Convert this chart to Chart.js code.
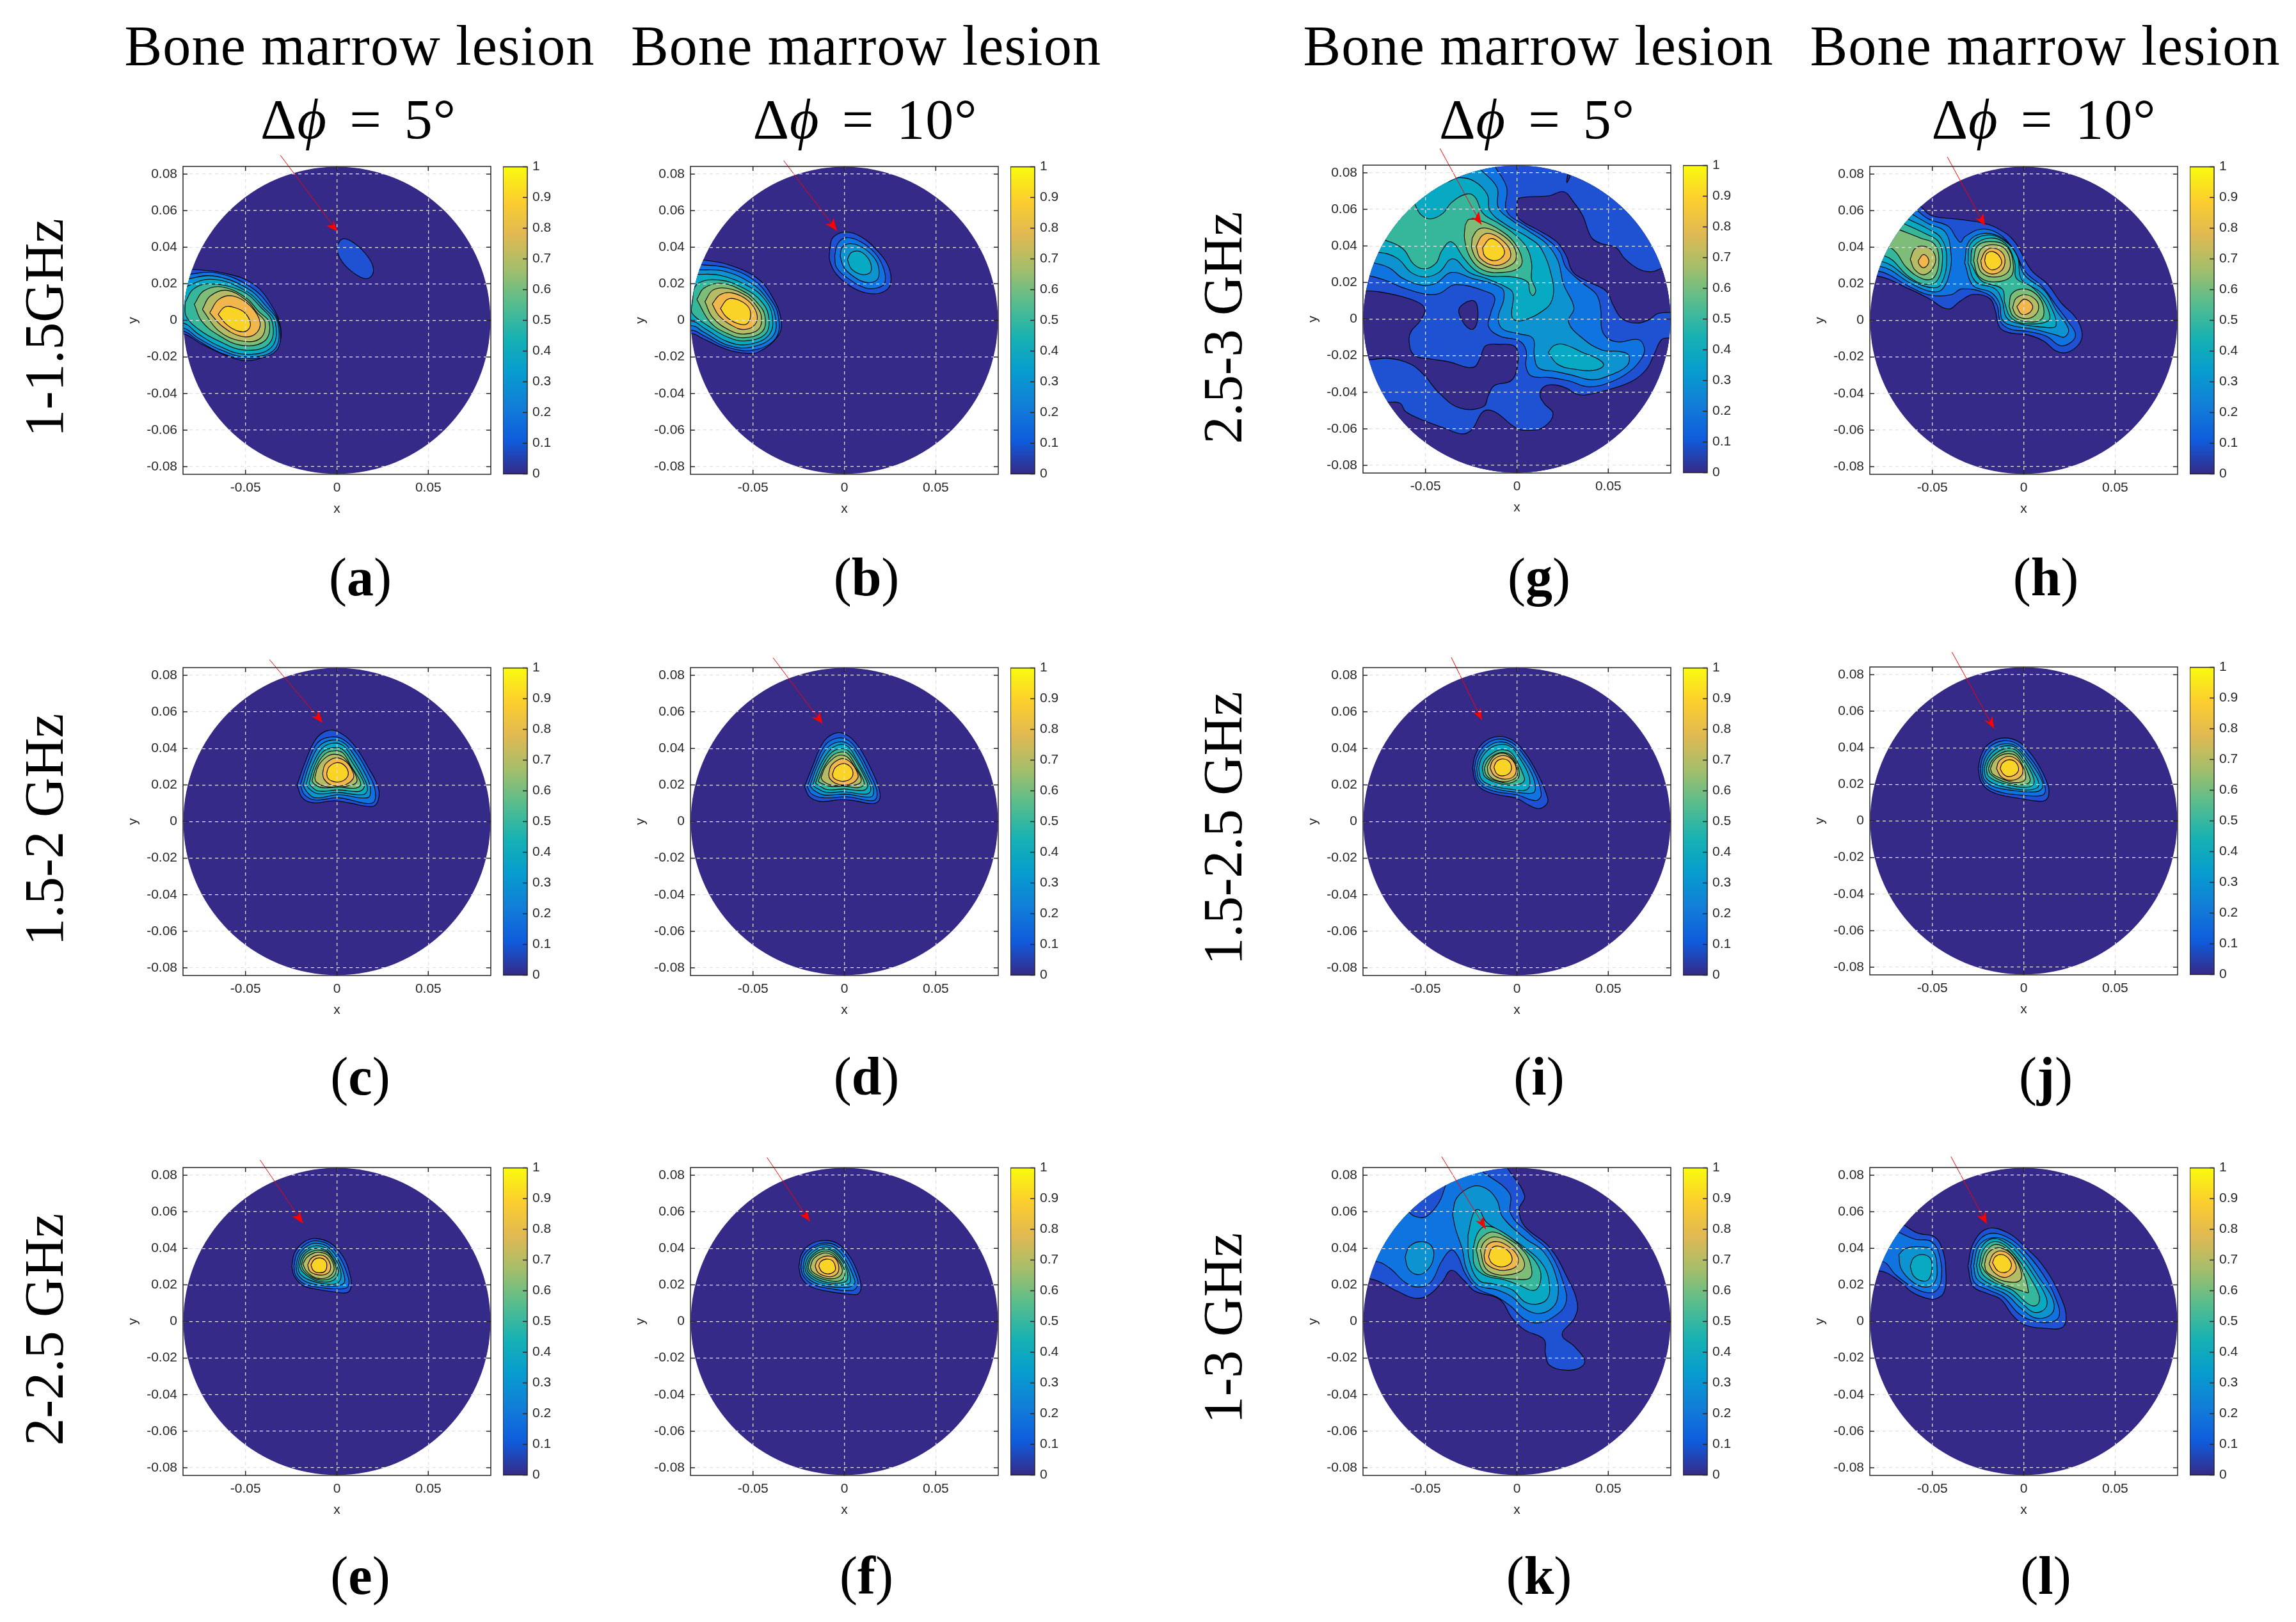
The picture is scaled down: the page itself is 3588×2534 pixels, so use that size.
<!DOCTYPE html>
<html>
<head>
<meta charset="utf-8">
<title>Bone marrow lesion</title>
<script src="https://cdn.jsdelivr.net/npm/chart.js@4/dist/chart.umd.js"></script>
<style>
  html, body { margin: 0; background: #fff; }
  #page { position: relative; width: 3588px; height: 2534px; overflow: hidden; background: #fff; }
  canvas { position: absolute; }
  .label { position: absolute; transform: translate(-50%, -50%); white-space: nowrap; color: #000;
           font-family: "Liberation Serif", serif; }
  .side { transform: translate(-50%, -50%) rotate(-90deg); }
</style>
</head>
<body>
<div id="page"></div>
<script>
// axis ticks
const xTicks = [-0.05, 0, 0.05];
const yTicks = [-0.08, -0.06, -0.04, -0.02, 0, 0.02, 0.04, 0.06, 0.08];
const barTicks = [0, 0.1, 0.2, 0.3, 0.4, 0.5, 0.6, 0.7, 0.8, 0.9, 1];

// colour of each filled contour band, and the colour bar
const levelColors = ['#352A87', '#1E52D2', '#0F74DF', '#0D93CF', '#08A9C2', '#36B69B', '#7EBD79', '#B6BC65', '#F2B74C', '#F9D326'];
const barStops = ['#352A87', '#0F5CDD', '#127DD8', '#079CCF', '#15B1B4', '#59BD8C', '#A5BE6B', '#E1B952', '#FCCE2E', '#F9FB0E'];
const barStopAt = [0, 0.11, 0.22, 0.33, 0.44, 0.56, 0.67, 0.78, 0.89, 1];

// contours: [band, [x, y, x, y, ...]], x and y in thousandths of the axis unit
const panelA = [
  [1, [-0.2,40.7, 3.3,44.6, 10.3,41.6, 17.3,34.3, 20,28, 18,23.4, 13.4,23.4, 5.6,28.9, 1,35.3]],
  [1, [-80,28, -63,26.1, -45.9,20, -35,7, -30.6,-5, -32.6,-15, -41.2,-20.5, -50.5,-22, -60,-19.5, -74,-13, -85,-7.3, -110,-10, -110,30]],
  [2, [-81.7,25.2, -66,26, -47.5,18.5, -37,8, -31.4,-3, -33.4,-16.8, -49,-21, -63,-18, -75.5,-11.3, -85,-5.8, -110,-8, -110,28]],
  [3, [-82.5,22.5, -67.7,24.3, -49,17.5, -38.5,7.5, -32.3,-1.3, -34.2,-16, -49,-20, -63,-16.4, -75.5,-9.9, -85,-4, -110,-6, -110,26]],
  [4, [-84,18, -69,22.5, -50.5,16.5, -40,7, -33.7,-1.3, -35.7,-14.6, -49.8,-18.6, -64.6,-14, -75.5,-7.7, -85,-1.3, -110,-4, -110,22]],
  [5, [-83,9.7, -78.6,17, -70,20, -52,16, -41.5,7, -35.3,-1.3, -37.3,-13, -50.5,-16.3, -64.6,-11.3, -75.5,-5, -82.5,2.4]],
  [6, [-78,8.8, -73,16, -63,18.3, -50,12.5, -43,5, -37,-1.3, -39.6,-11.3, -52,-13.7, -64.6,-8.2, -74,-0.4]],
  [7, [-73.6,6, -69.3,13.3, -60,16.4, -49,10.5, -44,4.5, -39.3,-1.3, -42,-9.9, -52,-11.3, -64.6,-5.8]],
  [8, [-69.6,4.2, -64.6,11.5, -56.8,13.3, -47.4,7.9, -42,-1.3, -45,-7.7, -52.9,-8.6, -63,-3]],
  [9, [-65,3.3, -61.4,7.3, -56,7, -50.5,4.2, -47.4,-1.3, -49,-5.5, -53.6,-6, -60,-2.6]]
];
const panelB = [
  [1, [-8,39, -6.3,45.2, 0.4,48.3, 9,45.8, 18.4,37.7, 24.3,29, 25.3,20.2, 21.7,15.8, 14.4,14.6, 5,17.7, -4.3,25.2, -8,32.7]],
  [2, [-5.3,35.2, -3.6,42, 1,45.2, 9,43, 17,36.5, 21.7,27.7, 22,20.2, 17.7,17.7, 11.7,17.7, 2.4,22.7, -4.3,29]],
  [3, [-2.3,35.2, -1,40.2, 3.7,41.9, 10.4,39.6, 17,33.3, 19,27, 17.7,22, 11.7,20.8, 5,24, -0.3,29]],
  [4, [1.7,33.3, 3.7,37, 8.4,37.7, 13,34, 14.8,29, 13.7,25.8, 9,25.2, 3.7,28.3]],
  [1, [-76.7,33, -64,30.6, -48,23.3, -39.5,13, -34.6,0.2, -36.2,-8.5, -46.8,-17.2, -54,-17.9, -64,-16, -77.4,-10, -84,-7.2, -110,-12, -110,38]],
  [2, [-78.7,30.5, -64,28.7, -49.5,22, -41,12.5, -36.2,2.7, -37.5,-9.7, -49.5,-16.2, -64,-14.7, -76.7,-8.5, -84,-5.4, -110,-10, -110,36]],
  [3, [-80,27.7, -65.4,26.8, -50.8,20.2, -42.5,12, -37.9,2.7, -39,-8.5, -51.5,-14.7, -64,-13.5, -76.7,-6.6, -84,-2.9, -110,-8, -110,32]],
  [4, [-81.4,25.2, -68,24.6, -52,18.4, -44,12, -39.5,2.7, -41.2,-7.9, -52.8,-13.2, -64,-11.6, -76,-4.7, -84,-0.4, -110,-4, -110,28]],
  [5, [-83.4,9, -80.7,19.6, -68,22, -54,17, -46,11, -41.5,2.7, -43,-7.2, -54,-11.2, -64,-9.1, -74.7,-2.9, -83.4,4]],
  [6, [-80.7,11.5, -76.7,17.7, -66.8,20.2, -54,15.2, -48,10, -43.5,2.7, -44.8,-6, -54.8,-9.5, -64,-7.2, -73.4,-1]],
  [7, [-76.3,10.2, -72,16.5, -64,17.5, -53.5,13.4, -49,9, -45.5,2.7, -46.8,-4.7, -54.8,-7.5, -62.8,-5.4, -72,1.5]],
  [8, [-72.3,9, -68,14, -61.4,15, -52.8,10.9, -48,4, -48.8,-2.2, -54.8,-5, -61.4,-2.9, -68.7,2.7]],
  [9, [-67.8,6.5, -64,11.5, -58.8,11.5, -52.8,7.7, -51.3,2.7, -53.5,-2, -58.8,-1.6, -64.8,2.1]]
];
const panelC = [
  [1, [-21.8,20, -17.7,31.7, -11.9,44.5, -6,49.5, 0.3,49.3, 9,42.3, 17.2,29.5, 22.5,19, 22.7,12, 19.6,8.3, 6.8,10.2, -1.4,11.4, -13,10.3, -18.9,13]],
  [2, [-20,20, -16.6,30.5, -10.7,42.9, -3.7,46.2, 3.3,45, 10.3,38, 17.2,26.3, 20.7,18, 20.5,11, 16,9.9, 1,13, -11.9,11.8, -17.7,14.7]],
  [3, [-18.5,20, -14.8,31.7, -9.6,41.3, -3.1,44.5, 3.3,43.3, 9,37, 16,25, 18.4,17.6, 16.7,13, 1,14.7, -11.9,13, -16.6,16.5]],
  [4, [-16.8,20.6, -13.6,30.5, -8.4,39.8, -2.6,42.8, 3.3,41.6, 9,34, 14.9,23.5, 16.7,17.6, 14.3,14.7, 1,15.9, -10.7,15.3, -15.4,18.2]],
  [5, [-15.2,21, -12.5,29.9, -7.8,38, -2,40.4, 3.3,39.3, 8.5,32.2, 14.3,22.3, 14.9,18.8, 12,16.5, 1,17.3, -10.1,16.7, -14.2,19.4]],
  [6, [-13.6,22.3, -11.3,29.9, -6.6,36.9, -1.4,38.7, 3.3,37.5, 7.9,30.1, 12.6,22.3, 12.6,19.4, 9,18.2, 1,18.9, -8.4,18.6, -12.5,20.6]],
  [7, [-12.1,24, -10.1,30.5, -5.5,35.5, -1.4,36.8, 3.3,35.4, 7.3,30.5, 10.8,24, 10.3,21, 5.6,19.4, -0.2,18.8, -7.2,19.4, -11.3,21.7]],
  [8, [-7.8,26.4, -6.6,31, -2.6,34.3, 0.9,34.8, 5.6,32.2, 8.5,27.6, 9.1,24, 5.6,20.6, 0.3,19.4, -4.3,20.6, -7.2,23.5]],
  [9, [-5.6,26.4, -4.3,29.9, -0.2,32.2, 3.8,31, 6.2,27, 5,23.5, 0.9,21.6, -3.1,22.3, -5.1,24]]
];
const panelD = [
  [1, [-21.8,19, -17.5,30, -11.8,43, -6,48, 0,48, 7,42, 14,30, 19,18, 19.2,12, 15.5,9.8, 5,11.5, -2,12, -13,11, -19,13.5]],
  [2, [-20.3,19, -16.2,30, -10.7,41.5, -4.5,45.5, 2,44.5, 8,37.5, 14,26, 17.7,17, 17,12, 13,11.5, 2,13.5, -11.5,13, -17.8,15]],
  [3, [-18.8,19.5, -14.8,30.5, -9.6,40, -3.5,43.5, 2,42.5, 7.5,36, 13,25, 16,17.5, 14.5,13.5, 1,15, -11,14.5, -16.5,17]],
  [4, [-17.3,20, -13.6,30, -8.4,38.5, -3,42, 2,41, 7,33.5, 12.5,23.5, 14.5,17.5, 12,15, 0,16.3, -10,16, -15.5,18.5]],
  [5, [-15.8,21, -12.5,29.5, -7.8,37, -2.5,39.8, 2,38.7, 7,32, 12,22.5, 12.7,19, 10,17, 0,17.8, -9.5,17.5, -14.3,20]],
  [6, [-14.3,22, -11.3,29.5, -6.6,36, -2,38, 2,37, 6.4,30, 10.5,22.5, 10.5,19.8, 7,18.5, 0,19.4, -8,19.3, -12.8,21]],
  [7, [-12.8,24, -10.3,30, -5.8,34.8, -2,36.3, 2,35, 5.6,30, 9,24, 8.5,21, 4,19.8, -1,19.6, -7.5,20, -11.5,22]],
  [8, [-8.6,26, -7.3,30.5, -3.3,33.8, 0,34.3, 4,31.8, 7,27, 7.4,24, 4,20.8, -1,20, -5,21, -8,23.5]],
  [9, [-6.5,26, -5,29.5, -1,31.7, 2.7,30.5, 4.7,27, 3.5,23.5, -0.5,22, -4,22.7, -6,24]]
];
const panelE = [
  [1, [-24.7,30.3, -23,37.9, -17.7,43.7, -11.3,45.3, -3.7,43, 3.3,35.6, 7.3,25.1, 7.7,18.7, 5.6,15.8, -0.2,16, -10.7,17.6, -18.9,19.9, -23.5,25.1]],
  [2, [-23.5,30.3, -21.8,37.3, -16.6,42.6, -11.3,44.1, -4.3,41.9, 2,34.4, 6.2,24, 6.2,19.3, 3.3,17.9, -7.2,18.4, -17.7,20.5, -22.6,25.1]],
  [3, [-22.4,30.3, -20.6,36.7, -16,41.4, -11.3,42.8, -4.9,40.8, 0.9,33.3, 4.2,24, 3.3,20.5, -4.9,19.3, -16.6,21.6, -21.4,25.7]],
  [4, [-21.4,30.3, -19.8,36.1, -15.4,40.2, -10.7,41.4, -5.5,39.7, 0.3,32.1, 2.3,25.1, 0.3,21, -6,20.5, -15.4,22.8, -20.3,26.3]],
  [5, [-20.5,30.3, -18.9,35.5, -14.8,39.2, -10.7,40, -5.5,38.5, -0.5,31.5, 0.7,26.3, -2.6,22.2, -9.6,21.9, -14.8,24, -19.1,27.4]],
  [6, [-19.5,30.9, -17.7,35.6, -13.6,38.3, -9.6,39, -4.9,37.3, -1.2,31.5, -0.5,26.9, -3.7,23.4, -9.6,22.8, -14.2,24.5, -18.3,28]],
  [7, [-18.6,31.5, -16.5,35, -12.5,37.5, -9,37.8, -5,36.3, -2,31.5, -1.8,27.5, -5,24.2, -9.6,23.5, -13.5,24.8, -17,28]],
  [8, [-16,30.9, -14.2,34.4, -10.7,36.2, -6.6,35.6, -3.7,31.5, -4,27.4, -7.2,25.5, -11.3,25.7, -14.8,27.4]],
  [9, [-14.2,30.9, -12.5,33.8, -9.6,34.8, -6.6,33.6, -5.5,30.9, -6.6,27.4, -10.1,26.7, -13,28]]
];
const panelF = [
  [1, [-24.9,29.8, -23.5,36.7, -18.9,42, -11.3,44.3, -3.7,42.6, 3.3,35, 7.9,25.1, 9.1,18.1, 7.3,15, 3.3,14.9, -8.4,16.4, -18.9,19.3, -23.5,24]],
  [2, [-23.8,29.8, -22.4,36, -17.7,40.6, -11.3,42.9, -4.3,41.4, 2.1,34.4, 6.8,24, 7.3,19.9, 4.4,17, -8.4,18.1, -17.7,20.5, -22.6,25.1]],
  [3, [-22.6,29.8, -21.2,35.4, -16.6,40.2, -11.3,41.9, -4.9,40.2, 0.9,33.3, 5.6,22.8, 5.4,20.5, 2.1,18.7, -9.6,19.3, -17.1,21.6, -21.7,25.7]],
  [4, [-21.7,29.8, -20,35, -16,39, -10.7,40.8, -5.5,39.1, 0.3,32.1, 3.3,24, 2.1,20.5, -9.6,20.5, -16.6,22.8, -20.6,26.3]],
  [5, [-20.6,29.8, -19.1,34.4, -15.4,38.1, -10.7,39.7, -5.5,38, -0.2,31.5, 1.9,25.1, 0.3,21.6, -9.6,21.4, -16,23.7, -19.8,26.9]],
  [6, [-19.8,29.8, -18.3,34.2, -14.5,37.4, -10.1,38.5, -5.5,36.7, -1.2,30.9, 0.3,25.7, -2.6,22.2, -9.6,22.6, -15.4,24.5, -18.9,27.4]],
  [7, [-18.6,29.8, -17.1,33.9, -13.6,36.6, -9.6,37.4, -5.5,35.6, -2,30.9, -1.2,26.9, -3.7,24, -9,23.4, -14.2,25.1, -17.7,27.4]],
  [8, [-16,30.3, -14.8,33.3, -11.9,35.3, -8.4,35.8, -4.9,34.4, -3.1,30.3, -3.7,26.5, -7.2,24.5, -11.3,25.1, -14.5,26.9]],
  [9, [-14,30.3, -13,32.7, -10.1,34.1, -6.6,33.3, -4.9,29.8, -5.5,27.4, -9,26, -12.5,27.4]]
];
const panelG = [
  [1, [-95,-95, 95,-95, 95,95, -95,95]],
  [0, [0,63, 1.2,66.2, 17.9,67.5, 25.5,69.7, 30.8,64.3, 36,56.5, 40.6,44.9, 45.2,41.7, 54.2,39.1, 58.8,33.3, 66.4,27.5, 73.9,25.9, 80,28.1, 95,30, 95,4, 83.8,3.6, 77,3, 72.4,-0.3, 64.8,-2.2, 57.3,0.4, 52.7,7.5, 48.9,15.2, 39.1,20.4, 30.8,25.5, 27,34.6, 21.7,42.3, 10.3,49.4, 4.2,52.6, 0,56.5]],
  [0, [-84,15.5, -76,15, -64,12.6, -53.3,8.8, -50.3,4.9, -53.3,-1.5, -57.9,-6.7, -59,-11.9, -56.4,-19.6, -47.3,-21.8, -36.7,-23.5, -27.6,-26.3, -23,-26, -20,-20.9, -17,-14.5, -9.4,-13.8, -1.8,-14.5, 0.5,-18.3, 0,-27.4, -3.3,-33.8, -12.4,-36.4, -15.5,-41.5, -18.5,-48, -31.4,-48.6, -42.7,-40.3, -50.3,-31.2, -57.9,-24.8, -70,-21.5, -80.6,-22.2, -95,-22, -95,15]],
  [0, [-27.6,9.4, -23.8,10.1, -21.8,7.5, -21.5,-0.3, -23.8,-5.4, -27.6,-4.1, -31.4,2.3, -31.4,6.2]],
  [0, [-70,-45.4, -63.9,-46, -60.9,-50.6, -50.3,-55.7, -39.7,-59.6, -29.8,-62.8, -24.5,-60.3, -18.5,-50.6, -12.4,-50.6, -0.3,-59.6, 7.3,-60.9, 14.8,-59, 19.8,-51.9, 14.8,-46, 12.6,-41.5, 14.8,-37, 20.9,-36, 27,-37.7, 32.3,-40.9, 37.6,-41.5, 51.2,-38.3, 63.3,-33.8, 70.9,-27.4, 75.5,-18.3, 79.2,-11.2, 83.8,-10.3, 95,-10, 95,-95, -95,-95, -95,-42]],
  [0, [27.7,79, 29.2,78.8, 27.3,74.6]],
  [2, [-11.7,83, -5.6,72, -5.6,59, 4.2,51.4, 14.8,44.9, 23.2,37.2, 27,28.1, 36,19.7, 43.6,13.3, 45.9,4.9, 46.4,-5.4, 49.7,-10.6, 55.8,-12.5, 66.4,-11.2, 69.7,-15.7, 68.6,-20.9, 61.8,-28.6, 51.2,-34.5, 39.1,-37, 28.5,-33.8, 17.9,-31.9, 8,-31.2, 5,-26.1, 5,-17, 1.2,-11.9, -9.4,-9.3, -15.5,-4.1, -14.2,3.6, -12.1,11.4, -15.5,14.6, -33.6,18.8, -42.7,13.9, -50.3,13.7, -62.4,17.2, -71.5,21, -80.9,23.6, -95,24, -95,90, -11.7,90]],
  [3, [-19.7,81.7, -10.9,72, -10.2,61, -2.6,53.9, 7.3,47.5, 16.4,41, 22.4,32, 25.5,19.1, 31.2,6.2, 28.2,-1.5, 36,-10.6, 46.7,-17, 55.8,-17.7, 61,-19.6, 60.3,-25.4, 49.7,-31.2, 40.6,-33.2, 30,-30.6, 20.9,-28.6, 11.8,-26.7, 9.5,-19.6, 8.8,-10.6, 1.2,-8, -7.9,-5.4, -10.2,1, -7.1,11.4, -8.6,17.2, -24.5,22.3, -35.9,25.5, -44.2,19.7, -51.8,18.5, -62.4,22.3, -70,28.1, -78.3,30.7, -95,33, -95,90, -19.7,90]],
  [4, [-37.4,75.2, -31.4,77.4, -23,75.2, -16.2,68.1, -14.7,59.1, -5.6,51.4, 5.8,44.9, 13.3,38.5, 19.4,21.7, 19.8,12.6, 16.4,6.2, 2.7,-0.9, -2.6,1, -2.1,13.9, -6.4,17.8, -17,22.3, -26,25.5, -35.2,33, -42.7,25.5, -50.3,23, -57.9,25.5, -65.5,33.3, -76,36.5, -95,36, -95,80]],
  [4, [17.1,-18.3, 20.2,-14.5, 25.5,-13.8, 36,-18.3, 45,-22.2, 47.4,-25.4, 42.1,-28, 31.5,-27.4, 22.4,-24.8]],
  [5, [-56,63, -52.6,57.2, -47.3,54.8, -40.5,57.8, -35.9,63.6, -27.6,68.4, -23,66.8, -18.5,57.8, -9.4,52, -1.8,46.8, 5,39.7, 8,30.7, 8,21.7, 10.3,15.9, 8.8,12.9, 7,15.2, 5.8,20.4, -3.3,23.2, -15.5,23.6, -23,26.8, -29,33.3, -35.9,42.3, -41.2,37.2, -44.2,30.7, -50.3,27.5, -56.4,30, -62.4,38.5, -72.3,43.2, -95,50, -70,70]],
  [6, [-28.3,51.4, -26,54.6, -18.5,53.3, -9.4,48.8, -1.8,42.3, 2.7,33.3, 1.2,28.1, -7.9,25.5, -18.5,26.8, -25.3,33.3, -28.6,43.6]],
  [7, [-24.5,44.3, -21.5,48.8, -17,49.8, -9.4,46.8, -2.6,41, -0.3,34.6, -2.6,30, -10.9,27.5, -20,30.7, -24.5,37.9]],
  [8, [-22.3,39.7, -19.2,45.5, -14.7,46.8, -7.9,43, -3.6,37.2, -4.8,32, -12.4,29.4, -20,33.3]],
  [9, [-18.8,39.1, -14.7,43.9, -10.2,42.3, -6.8,37.2, -8.6,33.3, -13.2,32, -17.7,34.6]]
];
const panelH = [
  [1, [-56.5,62.5, -50.5,57.3, -36.8,55.4, -23.2,53.4, -14.1,50.2, -5,43.1, 4,27.6, 13,19.8, 20.6,9.4, 28.3,1.7, 31.8,-6.1, 30.6,-12.5, 23.8,-17.5, 17.7,-16.7, 10.9,-11.3, 2.6,-8, -8,-6.7, -13.3,-3.5, -15.6,5.6, -18.6,12, -27.7,14.2, -34.5,10.7, -41.4,6.2, -52,12, -62.6,17.2, -80.5,24.3, -95,22, -95,70, -60,70]],
  [2, [-58.8,60.5, -52,55.4, -41.4,51.5, -36.8,45, -34.5,42.7, -32.3,45.7, -23.2,49.9, -14.1,47.6, -5.8,39.2, 1.1,26.3, 10.2,18.5, 17.7,8.2, 24.5,-0.9, 28.3,-7.4, 26,-11.9, 20,-13.8, 12.4,-8.7, 2.6,-6.1, -7.3,-4.8, -12.6,-0.9, -14.8,8.8, -20.2,14.6, -33.8,17.2, -39.8,14, -52,14, -62.6,18.5, -79.5,26.9, -95,24, -95,70, -65,68]],
  [3, [-61,58, -52,52.8, -42.9,48.3, -39.8,36.6, -40.2,27.6, -44.4,17.2, -50.5,15.7, -61,19.8, -78.5,29.5, -95,26, -95,60, -70,65]],
  [3, [-32.3,31.4, -30,43.1, -21.7,47.6, -11.8,45, -4.2,36.6, 0.3,25, 11.7,15.9, 17.7,5.6, 24.5,-4.8, 22.3,-9.1, 17.7,-8, 5.6,-4.8, -6.5,-2.8, -11.8,0.4, -13.3,9.4, -17.9,15.3, -27.7,19.1]],
  [4, [-63.3,55.4, -52.7,50.2, -45.2,45, -42.1,34, -45.2,19.8, -50.5,17.9, -61,21.7, -77.4,32.1, -95,30, -95,60, -70,62]],
  [4, [-30.5,31.4, -29,42, -20,46.7, -10.5,43.5, -3.5,35, -1.2,22.4, 8.6,15.9, 13.9,9.4, 17.7,-2.8, 11.7,-3.8, -3.5,-1.6, -9.5,1.7, -11.8,10.7, -15.6,17.2, -26.2,21.1]],
  [5, [-65.3,52.8, -54.2,47.6, -46.7,43.1, -44.4,34, -47.4,21.7, -54.2,19.8, -62.6,23.7, -76.2,35.3, -95,33, -95,60, -72,58]],
  [5, [-29,31.4, -27.5,40.5, -18.6,45, -10,42, -5,32, -4,23, 4.1,18.5, 10.2,12, 13.9,4.3, 13.5,-0.3, 2.6,-1.9, -6.5,1, -10.3,9.4, -11.8,17.2, -23.2,21.7]],
  [6, [-67.9,49.5, -56.5,45, -48.9,41.8, -46.4,33.4, -48.9,23.7, -55,22.6, -64,28.8, -70,37.3, -74.7,40.2, -95,38, -95,50, -75,55]],
  [6, [-27.4,32.7, -25.5,40.5, -18.6,43.1, -9.5,40.5, -5.8,31.4, -7.3,23.7, -17.1,21.1, -24.7,24.3]],
  [6, [-8,7.5, -6.5,14.6, 0.3,17.2, 7.1,14, 10.9,6.9, 9.4,0.4, 0.3,-0.6, -5.8,2.3]],
  [7, [-62.1,33.4, -59.5,39.2, -54.2,40.5, -48.9,36.6, -48.9,30.1, -54.2,25, -59.5,27.6]],
  [7, [-25.5,32.7, -23.2,39.2, -17.1,41.4, -10.3,39.2, -7.3,31.4, -9.5,25.6, -17.1,23.7, -23.2,26.3]],
  [7, [-6.1,6.9, -4.2,12, 1.1,14, 6.4,11.4, 8.2,6.9, 5.6,2.3, 0.3,1, -4.2,3]],
  [8, [-57.7,32.7, -55,36, -52.3,34, -52.3,30.8, -55,28.8, -57.3,30.8]],
  [8, [-23.5,32.7, -20.9,37.9, -16.4,39.5, -11.4,36.6, -10.3,31.4, -12.6,26.9, -17.9,25.4, -22.4,28.2]],
  [8, [-3.8,7.5, 0.3,11.6, 4.8,8.2, 3.3,4.3, -1.2,3.4]],
  [9, [-21.4,32.7, -20.2,36.6, -16.4,37.5, -12.6,34, -12.6,30.1, -17.1,27.6, -20.2,29.5]]
];
const panelI = [
  [1, [-24.2,29.3, -22.8,36.3, -18.2,43.3, -10.6,46.5, -2.5,44.5, 4.5,37.5, 11.5,25.8, 16.8,13, 16.2,9.5, 12.1,7.1, 6.9,8.8, -0.1,12.7, -10.6,14.7, -18.8,17.6, -22.8,22.3]],
  [2, [-23.2,29.3, -21.7,35.7, -17,42.2, -10,45.1, -3,43.3, 3.4,36.9, 9.8,26.4, 13.3,15.3, 11.5,11.8, 8,11.8, -0.1,14.7, -10.6,16.2, -18.2,18.8, -22,22.9]],
  [3, [-22,29.3, -20.5,35.1, -15.9,40.9, -10,43.5, -3.6,42.1, 2.2,35.7, 8,26.4, 10.1,18.8, 8.6,15.6, -1.3,16.2, -10.6,17.6, -17.6,20, -21,23.5]],
  [4, [-20.9,29.3, -19.4,34.6, -15,39.8, -9.4,42.1, -3.6,41, 1.6,34.6, 6.3,25.8, 6.9,19.4, 4,17, -2.4,17.6, -10.6,18.8, -17,21.1, -19.9,24.1]],
  [5, [-19,29.3, -17.6,33.4, -13.5,37.3, -8.9,39.2, -3.6,38.1, 0.5,32.2, 3.4,25.8, 4,22.3, 0.5,20.2, -5.9,20.2, -12.4,21.7, -17.6,24.6]],
  [6, [-17.8,29.3, -15.9,33.4, -12.4,36.5, -8.3,37.8, -3.6,36.5, -0.1,31.6, 1.3,26.9, 0.5,23.5, -3.6,21.1, -9.4,21.7, -14.7,23.5, -17,25.8]],
  [7, [-16.2,29.9, -14.1,34, -10.6,36.9, -5.9,37, -1.5,33, 0.3,28, -0.5,24, -6.5,21.8, -12.4,23, -15.5,26]],
  [8, [-14.7,29.3, -13.2,33.4, -8.9,36, -4.2,35.2, -0.7,30.5, -1.3,25.2, -6.5,23.2, -12.4,25.2]],
  [9, [-12.6,29.7, -11.2,32.8, -8.3,34.2, -4.8,33.4, -3,29.9, -4.2,26.4, -8.3,25, -11.2,26.4]]
];
const panelJ = [
  [1, [-24.9,28.6, -23.4,35.6, -19.3,42, -11.8,45.3, -3.6,43.8, 3.4,37.4, 9.2,28.6, 13.3,19.3, 13.6,14, 11.5,11.1, 6.9,10.9, -0.1,12, -11.8,14, -19.3,16.9, -23.4,21.6]],
  [2, [-23.8,28.6, -22.3,35, -18.2,40.9, -11.2,43.8, -4.2,42.4, 2.2,36.2, 8,28, 11.5,19.3, 11.5,15.2, 8.6,13.7, -0.1,14, -11.8,15.5, -18.8,18.1, -22.5,22.2]],
  [3, [-22.7,28.6, -21.1,34.4, -17,39.7, -10.6,42.2, -4.2,41, 1.6,35, 6.9,27.5, 10.4,20.4, 9.2,16.9, 4.5,15.8, -6,16.7, -16.4,18.7, -21.7,22.8]],
  [4, [-21.7,28.6, -19.9,33.9, -15.9,38.6, -10,41.1, -4.2,40, 1,33.9, 5.7,26.3, 8.3,20.4, 6.9,17.9, 1,16.9, -7.1,17.9, -15.9,20.2, -20.5,23.4]],
  [5, [-20.5,28.6, -18.8,33.3, -14.7,37.4, -9.4,39.7, -4.2,38.6, 0.5,32.7, 4.5,25.7, 5.7,21, 3.4,18.7, -3.6,18.7, -12.9,21, -19.3,24.5]],
  [6, [-19.3,28.6, -17.6,32.7, -13.9,36.2, -8.9,38.2, -4.2,37, -0.1,31.5, 2.8,25.1, 3.4,21.6, 0.5,19.9, -5.9,20.2, -12.9,22.2, -18.2,25.7]],
  [7, [-18.2,28.6, -16.4,32.7, -12.9,35.7, -8.5,36.8, -4.2,35.6, -0.7,30.4, 1,25.7, 0.5,22.2, -4.8,21, -11.2,22.8, -17,25.7]],
  [8, [-14.9,28.6, -13.5,32.7, -8.9,35.3, -4.2,33.9, -0.7,29.2, -1.5,24.5, -7.1,22.2, -12.4,24.2]],
  [9, [-12.9,28.6, -11.8,31.5, -8.5,33.4, -4.8,32.5, -2.8,28.6, -4.2,25.7, -8.3,24.2, -11.2,25.7]]
];
const panelK = [
  [1, [-5.3,84, 4.2,68.9, 1.2,61.2, 4.2,52.1, 17.9,40.5, 27.7,23.7, 33,10.2, 31.5,1.8, 24.7,-7.2, 31.5,-13.7, 37.1,-21.4, 34.5,-25.3, 27,-26.6, 17.9,-24, 15.6,-17.5, 14.8,-9.8, 4.2,-4.6, -2.6,1.8, -9.4,12.1, -23,16.6, -29,22.5, -35.9,28, -41.2,21.2, -48.8,14.1, -56.4,12.8, -65.5,16.6, -80.9,23.4, -95,20, -95,90, -5.3,90]],
  [2, [-18.9,82, -4.1,70.2, -3.3,58.6, 7.3,47.6, 17.9,37.9, 26.2,18.6, 26.6,9.5, 20.9,3.1, 11.8,-0.8, 4.2,1.2, -3.3,8.3, -10.9,13.4, -21.5,17.9, -28.3,26.3, -32.1,35.4, -35.9,39.1, -41.2,32.8, -47.3,21.2, -54.1,18.8, -60.9,21.2, -70,29.5, -77.6,32.8, -95,30, -95,90, -18.9,90]],
  [1, [-38.9,74.7, -42.7,65, -48.8,57.9, -53.3,56.9, -59,59.9, -65,75, -45,85]],
  [3, [-35.2,58.6, -32.9,67.6, -24.5,73.8, -17,72.8, -10.9,66.3, -7.9,57.3, 4.2,45.7, 14.8,37.9, 21.7,23.7, 22.1,12.1, 17.9,6.3, 11.1,4.4, 4.2,7, -2.6,13.4, -10.9,17.3, -21.5,19.9, -27.6,28.9, -29.8,39.2, -33.6,50.8]],
  [3, [-61.2,35.4, -58.6,41.2, -51.8,43.7, -46.2,40.5, -46.1,32.8, -50.3,27, -54.8,25.7, -59.4,28.9]],
  [4, [-26.8,47, -23.8,59.2, -20.8,61.2, -17,54.7, -9.4,49.5, 4.2,40.5, 14.8,30.2, 17.9,18.6, 16.4,12.1, 11.1,9.5, 4.2,10.8, -2.6,17.3, -12.4,20.5, -20.8,22.5, -26.1,34]],
  [5, [-24.1,39.2, -21.5,48.3, -17,52.1, -7.9,48.9, 4.2,39.2, 11.8,30.2, 13,22.5, 9.5,17, 1.2,19.9, -6.4,22.7, -17,25, -23,30.2]],
  [6, [-22.3,39.2, -20,45, -13.9,48.9, -6.4,46.3, 4.2,37.9, 8,28.9, 7,23.7, -0.3,23.1, -10.9,24.4, -18.5,27.6]],
  [7, [-20,39.2, -17.7,43.7, -12.4,46.3, -4.8,43.7, 2,36.6, 4.2,30.8, 1.2,27, -9.4,25.4, -17,28.9]],
  [8, [-18,36, -16.2,41.8, -10.9,43.7, -4.8,41.2, 0.5,35.4, -0.3,30.2, -6.4,28, -12.4,28.9, -17,32.1]],
  [9, [-15.5,35.4, -13.9,39.9, -10.2,41.2, -4.8,38.6, -2.6,34, -4.8,30.8, -9.4,29.9, -13.9,32.1]]
];
const panelL = [
  [1, [-65.6,52.8, -58,48.3, -48.9,46.3, -44.4,39.2, -42.6,27.6, -43.6,16, -48.2,12.4, -53.5,12.8, -61,16, -68.6,22.5, -79,27.6, -95,24, -95,60, -70,55]],
  [2, [-68.6,48.9, -59.5,45, -50.5,43.7, -45.9,35.4, -45.2,22.5, -48.2,16.6, -54.2,16, -62.6,19.9, -70.2,25.7, -77.4,32.8, -95,30, -95,55, -72,52]],
  [3, [-68.3,36.6, -64.8,39.9, -56.5,40.9, -49.7,38.6, -47.4,28.9, -48.9,21.2, -54.2,18.8, -61,21.8, -67.1,28.9]],
  [4, [-62.1,30.2, -60.3,34.7, -55.8,36.6, -51.2,34.7, -50.2,28.9, -52,23.1, -55.8,22.2, -60.3,25]],
  [1, [-30.5,30.2, -27.7,42.5, -20.2,50.6, -9.5,48.9, 1.1,40.5, 11.7,28.9, 20.8,12.1, 23.2,1.8, 20.8,-3.4, 11.7,-3.7, 1.1,-2.1, -5.8,3.1, -12.6,12.1, -20.2,15.4, -27.7,19.2]],
  [2, [-29,30.2, -26.2,41.8, -19.4,47.9, -9.5,46.3, 0.3,38.6, 10.2,26.3, 17.7,12.1, 19.2,2.5, 13.2,-0.5, 2.6,1.2, -3.5,5, -11.1,13.4, -18.6,17, -26.9,21.3]],
  [3, [-27.4,30.2, -24.7,41.2, -17.9,45.7, -9.5,44.4, -0.5,36.6, 8.6,23.7, 15.9,12.1, 15.5,4.4, 7.1,1.8, -1.2,7, -9.5,14.7, -17.9,18.6, -25.5,23.1]],
  [4, [-25.9,30.8, -23.2,40.5, -17.1,45.3, -9.5,42.8, -1.2,34.7, 6.4,23.7, 12.4,12.8, 11.7,7, 5.6,5, -0.5,9.5, -8,16, -17.1,19.9, -23.9,24.4]],
  [5, [-24.4,30.8, -22.1,39.2, -16.4,43.7, -9.5,41.2, -2,32.8, 4.1,23.1, 8.6,13.4, 7.1,8.9, 2.6,9.5, -6.5,17.3, -16.4,21.4, -22.4,25.7]],
  [6, [-23.2,30.8, -20.9,37.9, -15.6,42.1, -8.8,39.2, -1.2,29, 2.6,16, 0.3,16.3, -8,19.2, -15.6,22.5, -20.9,26.9]],
  [7, [-21.4,31.5, -19.4,37.4, -14.1,40.3, -7.3,37.3, -2,29, -2,22.5, -9.5,21.8, -16.4,24.4, -20.5,27.6]],
  [8, [-19,31.5, -16.8,36.6, -12.6,38.6, -7.3,36, -4.1,29.5, -6.5,25.7, -11.1,24.1, -16.4,27]],
  [9, [-17.1,32.1, -15.6,35.4, -11.8,36.6, -8,34.1, -6.8,30.2, -9.5,27, -14.1,27.6]]
];

// red arrows: tail, tip, barb, notch, barb (same units)
const arrowA = [-31,90.4, 0.5,48.4, -2.2,55.3, -1.9,52.2, -5.8,51.7];
const arrowB = [-33.2,87.4, -4,48.9, -6,56, -7.2,52.9, -10.2,52.7];
const arrowC = [-36.9,88.6, -7.8,54, -10.1,60.9, -11,57.6, -14.2,57.6];
const arrowD = [-39,89.6, -12,53.6, -13.5,60, -14.8,57, -18,57];
const arrowE = [-42,88.3, -18.5,53.6, -20.3,60.3, -21.2,57.7, -24.5,57.4];
const arrowF = [-42.3,89.7, -18.8,54.7, -20.6,61.5, -21.4,58.3, -24.5,58.5];
const arrowG = [-42.1,93.3, -19.4,51.7, -20.8,59.1, -22.7,55.2, -25,55.5];
const arrowH = [-41.8,89.4, -21.2,51.7, -22.1,58.6, -23.9,55.4, -26.7,56];
const arrowI = [-35.9,89.8, -19.1,55.5, -19.9,62.4, -21.1,59.1, -24.2,60];
const arrowJ = [-39.3,92.4, -16.2,50.5, -17.2,57.6, -18.5,54.1, -21.9,55.3];
const arrowK = [-41.2,90.2, -17,50.5, -18.5,57.7, -20,54.5, -22.7,55.1];
const arrowL = [-39.8,90.2, -20.2,53.4, -20.9,60.5, -22.4,57.3, -25.8,57.9];

const diskCenter = [0, 0];
const diskRadius = 84;

const topHeads = ['Bone marrow lesion', 'Bone marrow lesion', 'Bone marrow lesion', 'Bone marrow lesion'];
const deltaHeads = ['5', '10', '5', '10'];
const sideLabels = ['1-1.5GHz', '1.5-2 GHz', '2-2.5 GHz', '2.5-3 GHz', '1.5-2.5 GHz', '1-3 GHz'];

// layout in page pixels
const PLOT = 481;
const panels = [
  { letter: 'a', left: 286, top: 260, cx: 563, cy: 901, contours: panelA, arrow: arrowA },
  { letter: 'b', left: 1078.5, top: 260, cx: 1354, cy: 901, contours: panelB, arrow: arrowB },
  { letter: 'c', left: 286, top: 1043, cx: 563, cy: 1681, contours: panelC, arrow: arrowC },
  { letter: 'd', left: 1078.5, top: 1043, cx: 1354, cy: 1681, contours: panelD, arrow: arrowD },
  { letter: 'e', left: 286, top: 1824, cx: 563, cy: 2461, contours: panelE, arrow: arrowE },
  { letter: 'f', left: 1078.5, top: 1824, cx: 1354, cy: 2461, contours: panelF, arrow: arrowF },
  { letter: 'g', left: 2129.5, top: 258, cx: 2405, cy: 901, contours: panelG, arrow: arrowG },
  { letter: 'h', left: 2921.5, top: 260, cx: 3197, cy: 901, contours: panelH, arrow: arrowH },
  { letter: 'i', left: 2129.5, top: 1043, cx: 2405, cy: 1681, contours: panelI, arrow: arrowI },
  { letter: 'j', left: 2921.5, top: 1041.5, cx: 3197, cy: 1681, contours: panelJ, arrow: arrowJ },
  { letter: 'k', left: 2129.5, top: 1824, cx: 2405, cy: 2461, contours: panelK, arrow: arrowK },
  { letter: 'l', left: 2921.5, top: 1824, cx: 3197, cy: 2461, contours: panelL, arrow: arrowL }
];
const headX = [562, 1353.5, 2404, 3196];
const deltaX = [560, 1352, 2402, 3194];
const sidePos = [[69, 512], [69, 1296], [69, 2077], [1911, 512], [1911, 1294], [1911, 2075]];

const page = document.getElementById('page');
const tickFont = { family: '"Liberation Sans", Arial, sans-serif', size: 21 };
const inkColor = '#262626';

function addLabel(html, x, y, size, cls) {
  const d = document.createElement('div');
  d.className = 'label' + (cls ? ' ' + cls : '');
  d.style.left = x + 'px';
  d.style.top = y + 'px';
  d.style.fontSize = size + 'px';
  d.innerHTML = html;
  page.appendChild(d);
  return d;
}

function addCanvas(left, top, w, h) {
  const c = document.createElement('canvas');
  c.width = w;
  c.height = h;
  c.style.left = left + 'px';
  c.style.top = top + 'px';
  c.style.width = w + 'px';
  c.style.height = h + 'px';
  page.appendChild(c);
  return c;
}

function toPoints(flat, close) {
  const pts = [];
  for (let i = 0; i < flat.length; i += 2) pts.push({ x: flat[i] / 1000, y: flat[i + 1] / 1000 });
  if (close) pts.push(pts[0]);
  return pts;
}

// box with inward ticks round the plot
const framePlugin = {
  id: 'frame',
  afterDraw(chart) {
    const { ctx, chartArea: a, scales } = chart;
    const len = 7;
    ctx.save();
    ctx.strokeStyle = inkColor;
    ctx.lineWidth = 1.5;
    ctx.strokeRect(a.left, a.top, a.right - a.left, a.bottom - a.top);
    ctx.beginPath();
    scales.y.ticks.forEach(t => {
      const py = scales.y.getPixelForValue(t.value);
      ctx.moveTo(a.right, py);
      ctx.lineTo(a.right - len, py);
      if (chart.config.type !== 'bar') {
        ctx.moveTo(a.left, py);
        ctx.lineTo(a.left + len, py);
      }
    });
    if (chart.config.type !== 'bar') {
      scales.x.ticks.forEach(t => {
        const px = scales.x.getPixelForValue(t.value);
        ctx.moveTo(px, a.top);
        ctx.lineTo(px, a.top + len);
        ctx.moveTo(px, a.bottom);
        ctx.lineTo(px, a.bottom - len);
      });
    }
    ctx.stroke();
    ctx.restore();
  }
};

// contours stay inside the round measurement area, the arrow does not
const diskClipPlugin = {
  id: 'diskClip',
  beforeDatasetsDraw(chart) {
    const { ctx, scales } = chart;
    const cx = scales.x.getPixelForValue(0);
    const cy = scales.y.getPixelForValue(0);
    const r = scales.x.getPixelForValue(diskRadius / 1000) - cx;
    ctx.save();
    ctx.beginPath();
    ctx.arc(cx, cy, r, 0, Math.PI * 2);
    ctx.clip();
  },
  afterDatasetDraw(chart, args) {
    if (args.index === 2) chart.ctx.restore();
  }
};

function drawPanel(p) {
  const padTop = 60, padRight = 10, axisW = 100, axisH = 70;
  const canvas = addCanvas(p.left - axisW, p.top - padTop, axisW + PLOT + padRight, padTop + PLOT + axisH);

  const contourSets = p.contours.map(([band, flat]) => ({
    data: toPoints(flat, true),
    showLine: true,
    fill: 'shape',
    tension: 0.4,
    backgroundColor: levelColors[band],
    borderColor: '#000',
    borderWidth: 1.1,
    pointRadius: 0
  })).reverse();

  const a = p.arrow;
  const datasets = [
    {
      data: toPoints(a.slice(0, 4), false),
      showLine: true,
      borderColor: '#ff0000',
      borderWidth: 1,
      pointRadius: 0,
      clip: false
    },
    {
      data: toPoints(a.slice(2), true),
      showLine: true,
      fill: 'shape',
      backgroundColor: '#ff0000',
      borderWidth: 0,
      pointRadius: 0,
      clip: false
    },
    ...contourSets,
    {
      data: [{ x: diskCenter[0], y: diskCenter[1] }],
      showLine: false,
      backgroundColor: levelColors[0],
      borderWidth: 0,
      pointRadius: PLOT / 2
    }
  ];

  new Chart(canvas, {
    type: 'scatter',
    data: { datasets },
    plugins: [diskClipPlugin, framePlugin],
    options: {
      responsive: false,
      animation: false,
      events: [],
      devicePixelRatio: 1,
      layout: { autoPadding: false, padding: { top: padTop, right: padRight, left: 0, bottom: 0 } },
      plugins: { legend: { display: false }, tooltip: { enabled: false } },
      scales: {
        x: {
          type: 'linear',
          min: -0.0842,
          max: 0.0842,
          afterBuildTicks: s => { s.ticks = xTicks.map(v => ({ value: v })); },
          afterFit: s => { s.height = axisH; },
          ticks: { color: inkColor, font: tickFont, padding: 9, maxRotation: 0, autoSkip: false, callback: v => String(v) },
          grid: { z: 1, color: '#e2e2e2', lineWidth: 1.3, drawTicks: false },
          border: { display: false, dash: [5, 5] },
          title: { display: true, text: 'x', color: inkColor, font: tickFont, padding: { top: 0, bottom: 3 } }
        },
        y: {
          type: 'linear',
          min: -0.0842,
          max: 0.0842,
          afterBuildTicks: s => { s.ticks = yTicks.map(v => ({ value: v })); },
          afterFit: s => { s.width = axisW; },
          ticks: { color: inkColor, font: tickFont, padding: 9, autoSkip: false, callback: v => String(v) },
          grid: { z: 1, color: '#e2e2e2', lineWidth: 1.3, drawTicks: false },
          border: { display: false, dash: [5, 5] },
          title: { display: true, text: 'y', color: inkColor, font: tickFont, padding: { top: 10, bottom: 0 } }
        }
      }
    }
  });
}

function drawBar(p) {
  const pad = 20, barW = 38, axisW = 50;
  const canvas = addCanvas(p.left + PLOT + 19, p.top - pad, barW + axisW, PLOT + pad * 2);
  new Chart(canvas, {
    type: 'bar',
    data: {
      labels: [''],
      datasets: [{
        data: [1],
        barPercentage: 1,
        categoryPercentage: 1,
        backgroundColor: ctx => {
          const area = ctx.chart.chartArea;
          if (!area) return barStops[0];
          const g = ctx.chart.ctx.createLinearGradient(0, area.bottom, 0, area.top);
          barStops.forEach((c, i) => g.addColorStop(barStopAt[i], c));
          return g;
        }
      }]
    },
    plugins: [framePlugin],
    options: {
      responsive: false,
      animation: false,
      events: [],
      devicePixelRatio: 1,
      layout: { autoPadding: false, padding: { top: pad, bottom: pad, left: 0, right: 0 } },
      plugins: { legend: { display: false }, tooltip: { enabled: false } },
      scales: {
        x: { display: false },
        y: {
          position: 'right',
          min: 0,
          max: 1,
          afterBuildTicks: s => { s.ticks = barTicks.map(v => ({ value: v })); },
          afterFit: s => { s.width = axisW; },
          ticks: { color: inkColor, font: tickFont, padding: 8, autoSkip: false, callback: v => String(v) },
          grid: { display: false, drawTicks: false },
          border: { display: false }
        }
      }
    }
  });
}

panels.forEach(p => {
  drawPanel(p);
  drawBar(p);
  addLabel('(<b>' + p.letter + '</b>)', p.cx, p.cy, 84);
});

topHeads.forEach((t, i) => {
  addLabel(t, headX[i], 71, 88).style.letterSpacing = '1.2px';
  const d = addLabel('Δ<i>ϕ</i> = ' + deltaHeads[i] + '°', deltaX[i], 186, 88);
  d.style.wordSpacing = '12px';
  d.style.letterSpacing = '1px';
});

sideLabels.forEach((t, i) => addLabel(t, sidePos[i][0], sidePos[i][1], 86, 'side'));
</script>
</body>
</html>
